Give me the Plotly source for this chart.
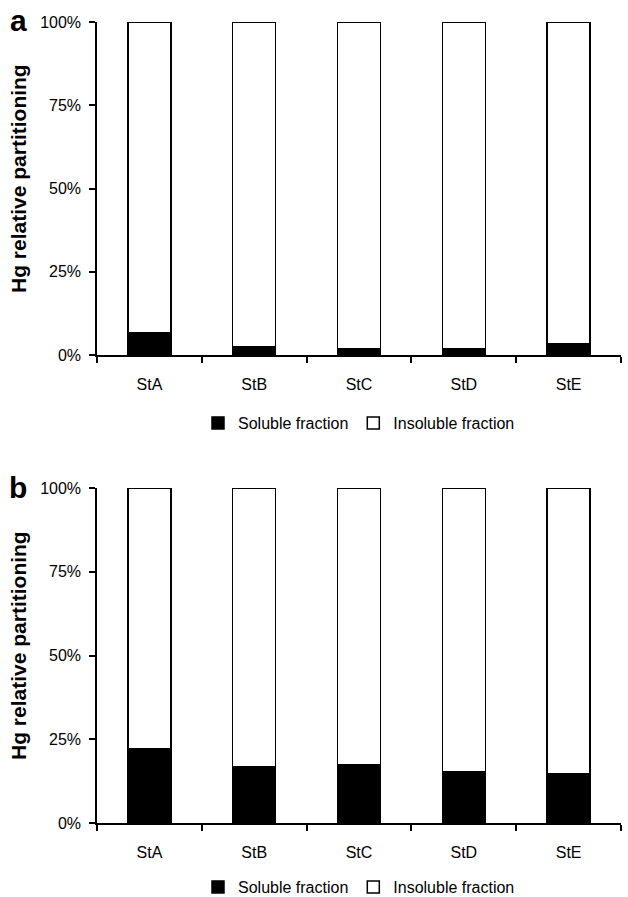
import plotly.graph_objects as go

# Sampling stations
stations = ["StA", "StB", "StC", "StD", "StE"]

# Hg relative partitioning (fraction of total)
soluble_a = [0.067, 0.024, 0.020, 0.020, 0.034]
soluble_b = [0.223, 0.167, 0.174, 0.152, 0.146]
insoluble_a = [1 - v for v in soluble_a]
insoluble_b = [1 - v for v in soluble_b]

y_ticks = [0, 0.25, 0.5, 0.75, 1.0]
y_title = "Hg relative partitioning"
font_family = "Liberation Sans"

W, H = 628, 897

fig = go.Figure()

panels = [
    ("x", "y", "legend", soluble_a, insoluble_a),
    ("x2", "y2", "legend2", soluble_b, insoluble_b),
]
for xa, ya, lg, sol, insol in panels:
    fig.add_trace(go.Bar(
        x=stations, y=sol, name="Soluble fraction",
        marker=dict(color="black", line=dict(color="black", width=1.5)),
        xaxis=xa, yaxis=ya, legend=lg,
    ))
    fig.add_trace(go.Bar(
        x=stations, y=insol, name="Insoluble fraction",
        marker=dict(color="white", line=dict(color="black", width=1.5)),
        xaxis=xa, yaxis=ya, legend=lg,
    ))

x_dom = [97 / W, 621 / W]
dom_a = [1 - 355 / H, 1 - 22 / H]
dom_b = [1 - 823 / H, 1 - 488 / H]

tick_font = dict(family=font_family, size=16, color="black")

xaxis_style = dict(
    domain=x_dom, type="category", showline=True, linecolor="black", linewidth=1.5,
    ticks="outside", tickson="boundaries", ticklen=6, tickwidth=1.5, tickcolor="black",
    showgrid=False, zeroline=False, tickfont=tick_font, automargin=False,
    ticklabelstandoff=14,
)
yaxis_style = dict(
    range=[0, 1], tickvals=y_ticks, tickformat=".0%", showline=True, linecolor="black",
    linewidth=1.5, ticks="outside", ticklen=6, tickwidth=1.5, tickcolor="black",
    showgrid=False, zeroline=False, tickfont=tick_font, automargin=False,
    ticklabelstandoff=5,
)

legend_style = dict(
    orientation="h", xanchor="center", yanchor="middle", x=359 / W,
    font=dict(family=font_family, size=16, color="black"), itemwidth=30,
    traceorder="normal", bgcolor="rgba(0,0,0,0)", tracegroupgap=0,
)

fig.update_layout(
    width=W, height=H, margin=dict(l=0, r=0, t=0, b=0, autoexpand=False),
    paper_bgcolor="white", plot_bgcolor="white",
    barmode="stack", bargap=0.59,
    font=dict(family=font_family, color="black"),
    xaxis=dict(**xaxis_style, anchor="y"),
    yaxis=dict(**yaxis_style, domain=dom_a, anchor="x"),
    xaxis2=dict(**xaxis_style, anchor="y2"),
    yaxis2=dict(**yaxis_style, domain=dom_b, anchor="x2"),
    legend=dict(**legend_style, y=1 - 423 / H),
    legend2=dict(**legend_style, y=1 - 887 / H),
    showlegend=True,
)

# Axis titles and panel letters
for yc, letter, ytop in [(179, "a", 20), (646, "b", 487)]:
    fig.add_annotation(
        text=f"<b>{y_title}</b>", textangle=-90, xref="paper", yref="paper",
        x=18 / W, y=1 - yc / H, showarrow=False,
        font=dict(family=font_family, size=21, color="black"),
        xanchor="center", yanchor="middle",
    )
    fig.add_annotation(
        text=f"<b>{letter}</b>", xref="paper", yref="paper",
        x=18 / W, y=1 - ytop / H, showarrow=False,
        font=dict(family=font_family, size=30, color="black"),
        xanchor="center", yanchor="middle",
    )

fig.write_html("out.html")
